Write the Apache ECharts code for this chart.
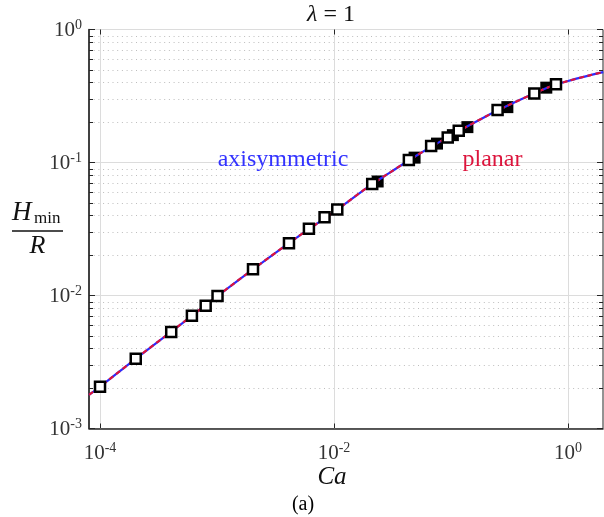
<!DOCTYPE html>
<html>
<head>
<meta charset="utf-8">
<script src="https://cdn.jsdelivr.net/npm/echarts@6/dist/echarts.min.js"></script>
<style>
html,body{margin:0;padding:0;background:#fff;}
#chart{width:604px;height:517px;}
</style>
</head>
<body>
<div id="chart"></div>
<script>
// ---- data ----
const curveCa = [8.05e-5, 1e-4, 2e-4, 5e-4, 1e-3, 2e-3, 5e-3, 1e-2, 2e-2, 3e-2, 5e-2, 0.1, 0.2, 0.3, 0.5, 0.7, 1.0, 1.5, 2.0];
const curveH  = [1.79e-3, 2.06e-3, 3.33e-3, 6.15e-3, 9.85e-3, 1.56e-2, 2.80e-2, 4.25e-2, 6.65e-2, 8.40e-2, 1.12e-1, 1.60e-1, 2.23e-1, 2.66e-1, 3.27e-1, 3.71e-1, 4.10e-1, 4.50e-1, 4.78e-1];

const openCa = [1e-4, 2.02e-4, 4.06e-4, 6.1e-4, 8.0e-4, 1.01e-3, 2.03e-3, 4.12e-3, 6.1e-3, 8.3e-3, 1.066e-2, 2.12e-2, 4.36e-2, 6.76e-2, 9.37e-2, 1.164e-1, 2.5e-1, 5.15e-1, 7.89e-1];
const openH  = [2.06e-3, 3.35e-3, 5.32e-3, 7.05e-3, 8.38e-3, 9.9e-3, 1.573e-2, 2.47e-2, 3.18e-2, 3.87e-2, 4.44e-2, 6.88e-2, 1.042e-1, 1.328e-1, 1.544e-1, 1.731e-1, 2.477e-1, 3.304e-1, 3.88e-1];

const filledCa = [2.36e-2, 4.88e-2, 7.59e-2, 1.037e-1, 1.38e-1, 3.03e-1, 6.52e-1];
const filledH  = [7.2e-2, 1.088e-1, 1.387e-1, 1.606e-1, 1.845e-1, 2.608e-1, 3.654e-1];

const xMajorTicks = [1e-4, 1e-2, 1];
const yMajorTicks = [1e-3, 1e-2, 1e-1, 1];
const yMinorTicks = [0.002,0.003,0.004,0.005,0.006,0.007,0.008,0.009,
                     0.02,0.03,0.04,0.05,0.06,0.07,0.08,0.09,
                     0.2,0.3,0.4,0.5,0.6,0.7,0.8,0.9];

const FONT = '"Liberation Serif", "DejaVu Serif", serif';
const AX = '#262626';

const zip = (a, b) => a.map((v, i) => [v, b[i]]);

function expLabel(v, evenOnly) {
  const l = Math.log10(v);
  const e = Math.round(l);
  if (Math.abs(l - e) > 1e-6) return '';
  if (evenOnly && e % 2 !== 0) return '';
  return '{b|10}{s|' + e + '}';
}
const labelRich = {
  b: {fontFamily: FONT, fontSize: 21, color: '#333', lineHeight: 22, verticalAlign: 'bottom'},
  s: {fontFamily: FONT, fontSize: 14, color: '#333', lineHeight: 14, verticalAlign: 'top'}
};

const chart = echarts.init(document.getElementById('chart'), null, {renderer: 'canvas'});

chart.setOption({
  animation: false,
  backgroundColor: '#fff',
  grid: {left: 89, top: 29.5, right: 1, bottom: 88.5, show: true, borderColor: AX, borderWidth: 1},
  xAxis: {
    type: 'log', logBase: 10, min: 8.05e-5, max: 1.99,
    axisLine: {show: true, lineStyle: {color: AX, width: 1.5}},
    axisTick: {show: false},
    splitLine: {show: false},
    axisLabel: {show: true, margin: 13, showMinLabel: false, showMaxLabel: false,
      formatter: v => expLabel(v, true), rich: labelRich}
  },
  yAxis: {
    type: 'log', logBase: 10, min: 1e-3, max: 1,
    axisLine: {show: true, lineStyle: {color: AX, width: 1.5}},
    axisTick: {show: true, inside: true, length: 6, lineStyle: {color: AX}},
    splitLine: {show: true, lineStyle: {color: '#dcdcdc', width: 1}},
    axisLabel: {show: true, margin: 7, formatter: v => expLabel(v, false), rich: labelRich}
  },
  series: [
    { // minor horizontal grid lines + minor ticks
      type: 'custom', z: 1, silent: true,
      data: yMinorTicks.map(v => [1e-2, v]),
      encode: {x: 0, y: 1},
      renderItem: function (params, api) {
        const cs = params.coordSys;
        const y = Math.round(api.coord([1e-2, api.value(1)])[1]) + 0.5;
        return {type: 'group', children: [
          {type: 'line', shape: {x1: cs.x, y1: y, x2: cs.x + cs.width, y2: y},
            style: {stroke: '#bdbdbd', lineWidth: 1, lineDash: [1, 3.7]}},
          {type: 'line', shape: {x1: cs.x, y1: y, x2: cs.x + 4, y2: y},
            style: {stroke: AX, lineWidth: 1}},
          {type: 'line', shape: {x1: cs.x + cs.width - 4, y1: y, x2: cs.x + cs.width, y2: y},
            style: {stroke: AX, lineWidth: 1}}
        ]};
      }
    },
    { // right-side major y ticks
      type: 'custom', z: 2, silent: true,
      data: yMajorTicks.map(v => [1e-2, v]),
      encode: {x: 0, y: 1},
      renderItem: function (params, api) {
        const cs = params.coordSys;
        const y = api.coord([1e-2, api.value(1)])[1];
        return {type: 'line', shape: {x1: cs.x + cs.width - 6, y1: y, x2: cs.x + cs.width, y2: y},
          style: {stroke: AX, lineWidth: 1}};
      }
    },
    { // x major grid lines + ticks (bottom, top)
      type: 'custom', z: 1, silent: true,
      data: xMajorTicks.map(v => [v, 1e-2]),
      encode: {x: 0, y: 1},
      renderItem: function (params, api) {
        const cs = params.coordSys;
        const x = Math.round(api.coord([api.value(0), 1e-2])[0]) + 0.5;
        return {type: 'group', children: [
          {type: 'line', shape: {x1: x, y1: cs.y, x2: x, y2: cs.y + cs.height},
            style: {stroke: '#dcdcdc', lineWidth: 1}},
          {type: 'line', shape: {x1: x, y1: cs.y + cs.height, x2: x, y2: cs.y + cs.height - 5},
            style: {stroke: AX, lineWidth: 1}},
          {type: 'line', shape: {x1: x, y1: cs.y, x2: x, y2: cs.y + 5},
            style: {stroke: AX, lineWidth: 1}}
        ]};
      }
    },
    { // planar results (filled squares)
      type: 'scatter', z: 3, symbol: 'rect', symbolSize: 12,
      itemStyle: {color: '#000', borderColor: '#000', borderWidth: 0, opacity: 1},
      data: zip(filledCa, filledH)
    },
    { // curve - blue solid
      type: 'line', z: 4, symbol: 'none', smooth: 0.3,
      lineStyle: {color: '#2b2bff', width: 2.2},
      data: zip(curveCa, curveH)
    },
    { // curve - red dashed overlay
      type: 'line', z: 5, symbol: 'none', smooth: 0.3,
      lineStyle: {color: '#dc143c', width: 2.2, type: [5, 3.5]},
      data: zip(curveCa, curveH)
    },
    { // axisymmetric results (open squares)
      type: 'scatter', z: 6, symbol: 'rect', symbolSize: 10,
      itemStyle: {color: '#fff', borderColor: '#000', borderWidth: 2.5, opacity: 1},
      data: zip(openCa, openH)
    }
  ],
  graphic: [
    {type: 'text', x: 331, y: 15, z: 10,
      style: {text: '{i|λ} = 1', textAlign: 'center', textVerticalAlign: 'middle',
        fontFamily: FONT, fontSize: 24, fill: '#111',
        rich: {i: {fontFamily: FONT, fontStyle: 'italic', fontSize: 24, fill: '#111'}}}},
    {type: 'text', x: 332, y: 477, z: 10,
      style: {text: 'Ca', textAlign: 'center', textVerticalAlign: 'middle',
        fontFamily: FONT, fontStyle: 'italic', fontSize: 25, fill: '#111'}},
    {type: 'text', x: 303, y: 505, z: 10,
      style: {text: '(a)', textAlign: 'center', textVerticalAlign: 'middle',
        fontFamily: FONT, fontSize: 20, fill: '#000'}},
    {type: 'text', x: 12, y: 213, z: 10,
      style: {text: 'H', textAlign: 'left', textVerticalAlign: 'middle',
        fontFamily: FONT, fontStyle: 'italic', fontSize: 27, fill: '#111'}},
    {type: 'text', x: 34, y: 219, z: 10,
      style: {text: 'min', textAlign: 'left', textVerticalAlign: 'middle',
        fontFamily: FONT, fontSize: 17, fill: '#111'}},
    {type: 'line', z: 10, shape: {x1: 12, y1: 231, x2: 63, y2: 231},
      style: {stroke: '#111', lineWidth: 1.3}},
    {type: 'text', x: 37.5, y: 246.5, z: 10,
      style: {text: 'R', textAlign: 'center', textVerticalAlign: 'middle',
        fontFamily: FONT, fontStyle: 'italic', fontSize: 26, fill: '#111'}},
    {type: 'text', x: 283, y: 160, z: 10,
      style: {text: 'axisymmetric', textAlign: 'center', textVerticalAlign: 'middle',
        fontFamily: FONT, fontSize: 24, fill: '#3333ff'}},
    {type: 'text', x: 492.5, y: 160, z: 10,
      style: {text: 'planar', textAlign: 'center', textVerticalAlign: 'middle',
        fontFamily: FONT, fontSize: 24, fill: '#dc143c'}}
  ]
});
</script>
</body>
</html>
